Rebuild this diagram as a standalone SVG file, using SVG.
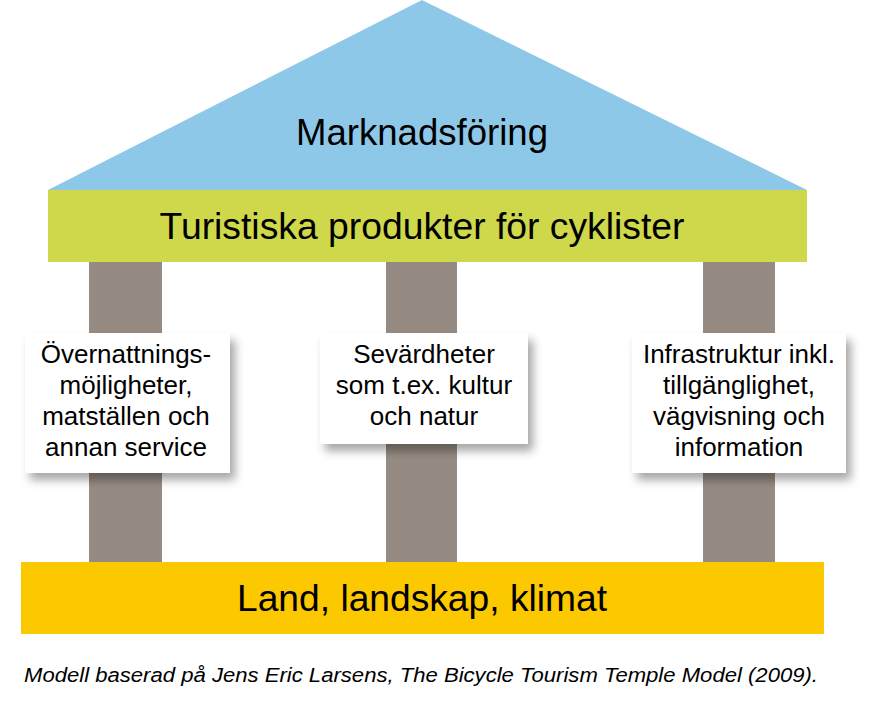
<svg xmlns="http://www.w3.org/2000/svg" width="874" height="725" viewBox="0 0 874 725">
<defs>
<filter id="sh" x="-20%" y="-20%" width="150%" height="150%">
<feDropShadow dx="5" dy="7" stdDeviation="5" flood-color="#000" flood-opacity="0.35"/>
</filter>
</defs>
<style>
.t{font-family:"Liberation Sans",Arial,sans-serif;fill:#000;text-anchor:middle}
.big{font-size:37px}
.box{font-size:26px}
.pillar{fill:#958B82}
.card{fill:#fff;filter:url(#sh)}
.cap{font-family:"Liberation Sans",Arial,sans-serif;font-style:italic;font-size:20px;fill:#000}
</style>
<rect width="874" height="725" fill="#fff"/>
<g id="pillars">
<rect class="pillar" x="89" y="262" width="73" height="300"/>
<rect class="pillar" x="386" y="262" width="71" height="300"/>
<rect class="pillar" x="703" y="262" width="72" height="300"/>
</g>
<g id="roof">
<polygon points="422,0 48,190 807,190" fill="#8EC8E8"/>
<text class="t big" x="422" y="145" textLength="252" lengthAdjust="spacingAndGlyphs">Marknadsföring</text>
</g>
<g id="products">
<rect x="48" y="190" width="759" height="72" fill="#CFD84B"/>
<text class="t big" x="422" y="239" textLength="525" lengthAdjust="spacingAndGlyphs">Turistiska produkter för cyklister</text>
</g>
<g id="base">
<rect x="21" y="562" width="803" height="72" fill="#FCC800"/>
<text class="t big" x="422" y="611" textLength="370" lengthAdjust="spacingAndGlyphs">Land, landskap, klimat</text>
</g>
<g id="box1">
<rect class="card" x="25" y="333" width="205" height="140"/>
<text class="t box" x="126" y="363">Övernattnings-</text>
<text class="t box" x="126" y="394">möjligheter,</text>
<text class="t box" x="126" y="425">matställen och</text>
<text class="t box" x="126" y="456">annan service</text>
</g>
<g id="box2">
<rect class="card" x="320" y="333" width="208" height="111"/>
<text class="t box" x="424" y="363">Sevärdheter</text>
<text class="t box" x="424" y="394">som t.ex. kultur</text>
<text class="t box" x="424" y="425">och natur</text>
</g>
<g id="box3">
<rect class="card" x="632" y="333" width="214" height="140"/>
<text class="t box" x="739" y="363">Infrastruktur inkl.</text>
<text class="t box" x="739" y="394">tillgänglighet,</text>
<text class="t box" x="739" y="425">vägvisning och</text>
<text class="t box" x="739" y="456">information</text>
</g>
<g id="connectors"></g>
<text class="cap" x="24" y="682" textLength="794" lengthAdjust="spacingAndGlyphs">Modell baserad på Jens Eric Larsens, The Bicycle Tourism Temple Model (2009).</text>
</svg>
